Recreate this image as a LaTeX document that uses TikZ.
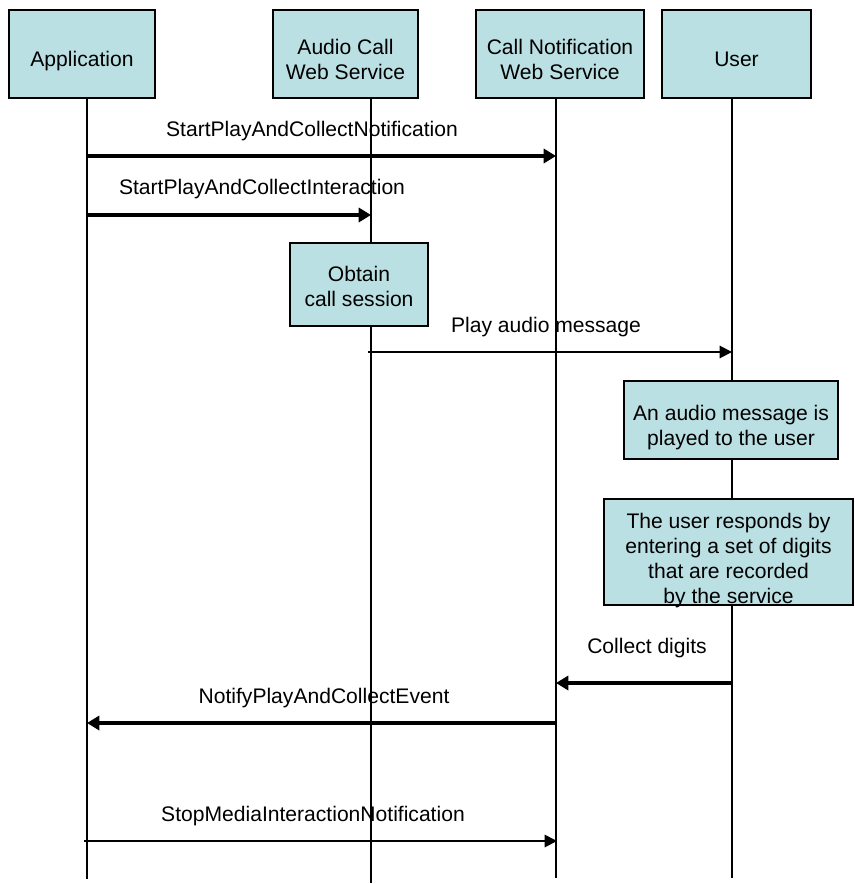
\documentclass[tikz,border=0pt]{standalone}
\usepackage{fontspec}
\setmainfont{Liberation Sans}
\usetikzlibrary{arrows.meta}
\definecolor{boxfill}{RGB}{187,224,227}

\begin{document}
\begin{tikzpicture}[x=0.02cm, y=-0.02cm,
        font=\fontsize{12}{14.2}\selectfont,
        box/.style={draw, fill=boxfill, line width=1.1pt, align=center, inner sep=0pt},
        life/.style={line width=1pt},
        msg/.style={line width=1.1pt, -{Triangle[length=7pt, width=7pt]}},
        bigmsg/.style={line width=2.2pt, -{Triangle[length=7pt, width=8pt]}}]
        \useasboundingbox (0,0) rectangle (854,884);

        % Draw participants
        \node[box, minimum width=2.92cm, minimum height=1.76cm, text height=17pt] (app) at (82,54) {Application};
        \node[box, minimum width=2.90cm, minimum height=1.76cm, text height=29pt, text depth=0pt] (audio) at (345.5,54) {Audio Call\\Web Service};
        \node[box, minimum width=3.36cm, minimum height=1.76cm, text height=29pt, text depth=0pt] (notif) at (560,54) {Call Notification\\Web Service};
        \node[box, minimum width=2.98cm, minimum height=1.76cm, text height=14.5pt] (user) at (736.5,54) {User};

        % Draw lifelines
        \coordinate (app end) at (87,879);
        \coordinate (audio end) at (371,883);
        \coordinate (notif end) at (556,878);
        \coordinate (user end) at (732,878);
        \draw[life] (app.south -| app end) -- (app end);
        \draw[life] (audio.south -| audio end) -- (audio end);
        \draw[life] (notif.south -| notif end) -- (notif end);
        \draw[life] (user.south -| user end) -- (user end);

        % Draw activities
        \node[box, minimum width=2.76cm, minimum height=1.66cm, text height=25pt, text depth=0pt] (obtain) at (359,284.5) {Obtain\\call session};
        \node[box, minimum width=4.28cm, minimum height=1.56cm, text height=28.9pt, text depth=0pt] (played) at (731,420) {An audio message is\\played to the user};
        \node[box, minimum width=4.98cm, minimum height=2.12cm, text height=58.3pt, text depth=0pt] (responds) at (728.5,552) {The user responds by\\entering a set of digits\\that are recorded\\by the service};

        % Draw message ends
        \coordinate (m1s) at (87,156);
        \coordinate (m1e) at (556,156);
        \coordinate (m2s) at (87,215);
        \coordinate (m2e) at (371,215);
        \coordinate (m3s) at (368,352);
        \coordinate (m3e) at (732,352);
        \coordinate (m4s) at (732,683);
        \coordinate (m4e) at (556,683);
        \coordinate (m5s) at (556,723);
        \coordinate (m5e) at (87,723);
        \coordinate (m6s) at (84,841);
        \coordinate (m6e) at (557,841);

        % Draw messages
        \draw[bigmsg] (m1s) -- (m1e);
        \draw[bigmsg] (m2s) -- (m2e);
        \draw[msg] (m3s) -- (m3e);
        \draw[bigmsg] (m4s) -- (m4e);
        \draw[bigmsg] (m5s) -- (m5e);
        \draw[msg] (m6s) -- (m6e);

        % Draw message labels
        \node (startnote) at (312,131) {StartPlayAndCollectNotification};
        \node (startinter) at (262,189) {StartPlayAndCollectInteraction};
        \node (play) at (546,327) {Play audio message};
        \node (collect) at (647,648) {Collect digits};
        \node (notify) at (324,698) {NotifyPlayAndCollectEvent};
        \node (stop) at (313,816) {StopMediaInteractionNotification};
    \end{tikzpicture}
\end{document}
